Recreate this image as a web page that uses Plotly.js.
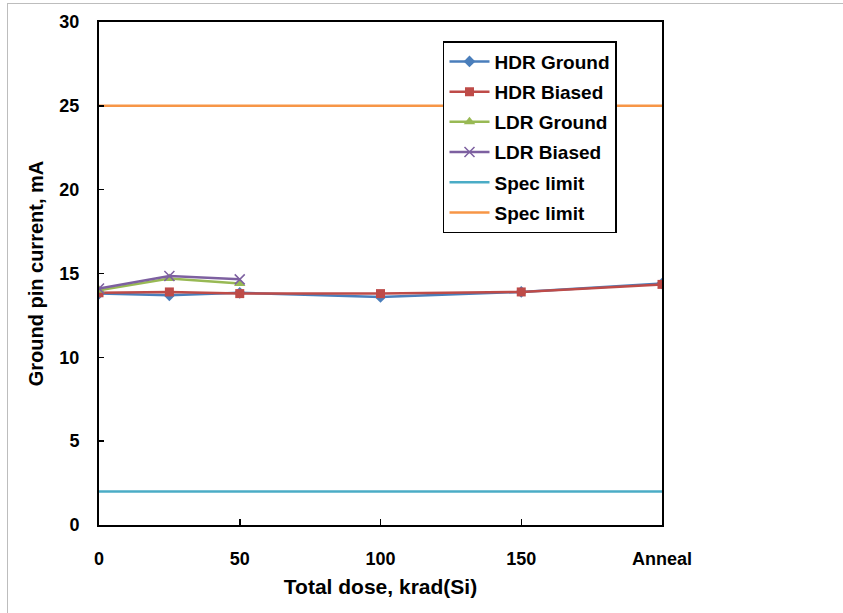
<!DOCTYPE html>
<html>
<head>
<meta charset="utf-8">
<script src="https://cdn.plot.ly/plotly-3.0.1.min.js"></script>
<style>
html,body{margin:0;padding:0;background:#fff;}
#wrap{position:relative;width:843px;height:613px;overflow:hidden;}
#frame{position:absolute;left:7px;top:3px;width:900px;height:700px;border:1px solid #bdbdbd;pointer-events:none;z-index:5;}
#chart{position:absolute;left:0;top:0;width:843px;height:613px;}
</style>
</head>
<body>
<div id="wrap"><div id="chart"></div><div id="frame"></div></div>
<script>
const doseX = [0, 25, 50, 100, 150, 200];
const ldrX = [0, 25, 50];
const hdrGround = [13.8, 13.7, 13.85, 13.6, 13.9, 14.4];
const hdrBiased = [13.85, 13.9, 13.8, 13.8, 13.9, 14.35];
const ldrGround = [14.0, 14.7, 14.4];
const ldrBiased = [14.1, 14.85, 14.65];
const specX = [0, 200];
const specLow = [2, 2];
const specHigh = [25, 25];
const tickVals = [0, 50, 100, 150, 200];
const tickText = ['0', '50', '100', '150', 'Anneal'];

const FONT = '"Liberation Sans", Arial, sans-serif';

const traces = [
  {x: doseX, y: hdrGround, name: 'HDR Ground', legendgroup: 'g1', mode: 'lines+markers',
   line: {color: '#4A7EBB', width: 2.5}, marker: {symbol: 'diamond', size: 9, color: '#4A7EBB'}},
  {x: doseX, y: hdrBiased, name: 'HDR Biased', legendgroup: 'g2', mode: 'lines+markers',
   line: {color: '#BE4B48', width: 2.5}, marker: {symbol: 'square', size: 9, color: '#BE4B48'}},
  {x: ldrX, y: ldrGround, name: 'LDR Ground', legendgroup: 'g3', mode: 'lines+markers',
   line: {color: '#98B954', width: 2.5}, marker: {symbol: 'triangle-up', size: 10, color: '#98B954'}},
  {x: ldrX, y: ldrBiased, name: 'LDR Biased', legendgroup: 'g4', mode: 'lines+markers',
   line: {color: '#7D60A0', width: 2.5}, marker: {symbol: 'x-thin-open', size: 10, color: '#7D60A0', line: {width: 1.5, color: '#7D60A0'}}},
  {x: specX, y: specLow, name: 'Spec limit', legendgroup: 'g5', mode: 'lines',
   line: {color: '#4BACC6', width: 2.5}},
  {x: specX, y: specHigh, name: 'Spec limit', legendgroup: 'g6', mode: 'lines',
   line: {color: '#F79646', width: 2.5}}
];

const layout = {
  width: 843, height: 613,
  margin: {l: 99, r: 181, t: 22, b: 88},
  paper_bgcolor: '#fff', plot_bgcolor: '#fff',
  font: {family: FONT, size: 17, color: '#000'},
  showlegend: true,
  legend: {x: 0.611, y: 0.962, xanchor: 'left', yanchor: 'top',
    bordercolor: '#000', borderwidth: 1.5, bgcolor: '#fff',
    font: {family: FONT, size: 19, color: '#000', weight: 'bold'},
    tracegroupgap: 2.5, itemwidth: 40},
  xaxis: {range: [0, 200], tickvals: tickVals, ticktext: tickText,
    ticks: 'inside', ticklen: 6, tickwidth: 1.5, tickcolor: '#000',
    showline: true, linecolor: '#000', linewidth: 2, mirror: true,
    showgrid: false, zeroline: false,
    tickfont: {family: FONT, size: 18, weight: 'bold'}, ticklabelstandoff: 16,
    title: {text: 'Total dose, krad(Si)', font: {family: FONT, size: 21, weight: 'bold'}, standoff: 12}},
  yaxis: {range: [0, 30], tickvals: [0, 5, 10, 15, 20, 25, 30],
    ticks: 'inside', ticklen: 5, tickwidth: 1.5, tickcolor: '#000',
    showline: true, linecolor: '#000', linewidth: 2, mirror: true,
    showgrid: false, zeroline: false,
    tickfont: {family: FONT, size: 18, weight: 'bold'}, ticklabelstandoff: 14,
    title: {text: 'Ground pin current, mA', font: {family: FONT, size: 20, weight: 'bold'}, standoff: 10}}
};

Plotly.newPlot('chart', traces, layout, {displayModeBar: false, staticPlot: true});
</script>
</body>
</html>
